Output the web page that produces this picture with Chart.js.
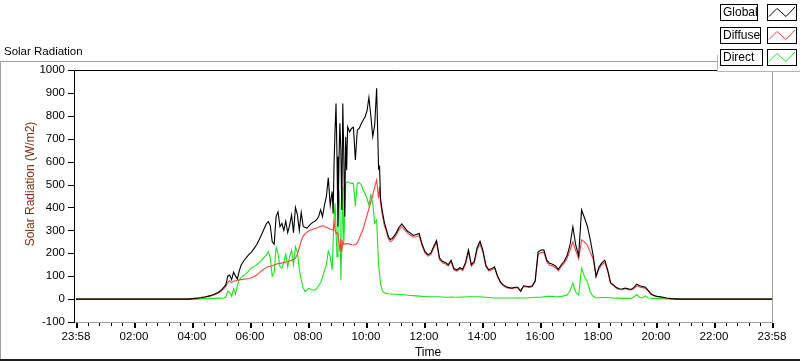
<!DOCTYPE html>
<html>
<head>
<meta charset="utf-8">
<title>Solar Radiation</title>
<script src="https://cdn.jsdelivr.net/npm/chart.js@4.4.1/dist/chart.umd.min.js"></script>
<style>
  html, body { margin: 0; padding: 0; background: #fff; }
  #wrap { width: 800px; height: 361px; }
</style>
</head>
<body>
<div id="wrap"><canvas id="solarChart" width="800" height="361"></canvas></div>
<script>
// sample times (first 23:58 is the start of the day window)
const times = [
  "23:58", "03:00", "03:52",
  "04:00", "04:04", "04:08", "04:12", "04:16", "04:20", "04:24", "04:28", "04:32", "04:36",
  "04:40", "04:44", "04:48", "04:52", "04:56", "05:00", "05:04", "05:08", "05:12", "05:16",
  "05:20", "05:24", "05:28", "05:32", "05:36", "05:40", "05:44", "05:48", "05:52", "05:56",
  "06:00", "06:04", "06:08", "06:12", "06:16", "06:20", "06:24", "06:28", "06:32", "06:36",
  "06:40", "06:44", "06:48", "06:52", "06:56", "07:00", "07:04", "07:08", "07:12", "07:16",
  "07:20", "07:24", "07:28", "07:32", "07:36", "07:40", "07:44", "07:48", "07:52", "07:56",
  "08:00", "08:04", "08:08", "08:12", "08:16", "08:20", "08:24", "08:28", "08:32", "08:36",
  "08:40", "08:44", "08:48", "08:50", "08:52", "08:54", "08:56", "08:58", "09:00", "09:02",
  "09:04", "09:06", "09:08", "09:10", "09:12", "09:14", "09:16", "09:18", "09:20", "09:24",
  "09:28", "09:32", "09:36", "09:40", "09:44", "09:48", "09:52", "09:56", "10:00", "10:04",
  "10:08", "10:12", "10:16", "10:20", "10:24", "10:26", "10:28", "10:32", "10:36", "10:40",
  "10:44", "10:48", "10:52", "10:56", "11:00", "11:06", "11:12", "11:18", "11:24", "11:30",
  "11:36", "11:42", "11:48", "11:54", "12:00", "12:06", "12:12", "12:18", "12:24", "12:30",
  "12:36", "12:42", "12:48", "12:54", "13:00", "13:06", "13:12", "13:18", "13:24", "13:30",
  "13:36", "13:42", "13:48", "13:54", "14:00", "14:06", "14:12", "14:18", "14:24", "14:30",
  "14:36", "14:42", "14:48", "14:54", "15:00", "15:06", "15:12", "15:18", "15:24", "15:30",
  "15:36", "15:42", "15:48", "15:54", "16:00", "16:06", "16:12", "16:18", "16:24", "16:30",
  "16:36", "16:42", "16:48", "16:54", "17:00", "17:06", "17:12", "17:18", "17:24", "17:30",
  "17:36", "17:42", "17:48", "17:54", "18:00", "18:06", "18:12", "18:18", "18:24", "18:30",
  "18:36", "18:42", "18:48", "18:54", "19:00", "19:06", "19:12", "19:18", "19:24", "19:30",
  "19:36", "19:42", "19:48", "19:54", "20:00", "20:10", "20:20", "20:30", "20:45", "23:58"
];

const globalRad = [
  0, 0, 0,
  2, 3, 4, 5, 6, 8, 9, 11, 13, 15,
  18, 21, 25, 29, 35, 42, 52, 62, 100, 105,
  85, 118, 100, 88, 125, 150, 163, 175, 185, 195,
  203, 214, 226, 238, 255, 272, 292, 310, 330, 338,
  320, 250, 240, 360, 381, 316, 330, 300, 340, 290,
  323, 367, 290, 400, 370, 300, 378, 318, 312, 310,
  320, 328, 335, 340, 347, 360, 390, 360, 410, 447,
  530, 410, 470, 374, 600, 738, 854, 621, 316, 600,
  767, 650, 389, 854, 636, 360, 709, 563, 752, 730,
  745, 750, 607, 738, 745, 765, 781, 795, 820, 880,
  800, 710, 760, 920, 570, 578, 440, 380, 335, 305,
  275, 260, 264, 275, 287, 312, 328, 312, 296, 288,
  278, 282, 286, 240, 208, 194, 200, 230, 256, 180,
  165, 160, 150, 170, 133, 127, 137, 130, 160, 215,
  150, 165, 225, 252, 212, 148, 128, 133, 141, 102,
  75, 62, 54, 50, 48, 52, 52, 35, 58, 56,
  54, 58, 80, 205, 214, 215, 170, 156, 152, 145,
  130, 150, 165, 190, 235, 316, 235, 190, 389, 355,
  318, 260, 190, 100, 140, 158, 170, 128, 72, 62,
  50, 45, 44, 48, 45, 42, 50, 65, 58, 55,
  52, 38, 22, 16, 12, 9, 5, 2, 0, 0
];

const diffuseRad = [
  0, 0, 0,
  2, 3, 4, 5, 6, 8, 9, 10, 12, 14,
  16, 19, 22, 26, 31, 38, 46, 55, 74, 80,
  72, 78, 80, 82, 84, 85, 86, 88, 89, 90,
  92, 96, 100, 105, 112, 120, 127, 133, 138, 141,
  143, 146, 149, 152, 155, 156, 158, 160, 162, 163,
  166, 170, 172, 180, 195, 225, 255, 275, 285, 292,
  298, 302, 305, 308, 310, 314, 318, 320, 318, 312,
  310, 305, 303, 300, 338, 300, 287, 290, 280, 250,
  207, 260, 207, 250, 240, 240, 243, 240, 243, 240,
  237, 236, 238, 245, 265, 285, 305, 335, 365, 395,
  425, 455, 490, 520, 440, 490, 420, 365, 320, 298,
  264, 250, 255, 266, 278, 302, 316, 302, 288, 280,
  270, 273, 277, 233, 201, 188, 194, 222, 246, 173,
  159, 154, 145, 163, 128, 122, 131, 125, 153, 205,
  144, 158, 215, 241, 204, 142, 123, 128, 135, 98,
  72, 59, 51, 47, 46, 49, 49, 33, 55, 53,
  51, 55, 76, 195, 203, 205, 162, 148, 145, 137,
  124, 142, 157, 178, 212, 250, 212, 175, 258, 250,
  235, 205, 175, 96, 132, 150, 160, 122, 69, 59,
  47, 42, 41, 45, 42, 40, 45, 58, 53, 50,
  47, 35, 20, 15, 11, 8, 4, 2, 0, 0
];

const directRad = [
  0, 0, 0,
  0, 0, 0, 0, 1, 2, 2, 3, 3, 3,
  3, 3, 3, 4, 4, 4, 5, 8, 35, 28,
  12, 45, 22, 60, 85, 95, 102, 108, 115, 125,
  134, 140, 145, 150, 158, 166, 175, 184, 193, 207,
  180, 100, 115, 225, 200, 141, 135, 160, 195, 140,
  185, 214, 150, 229, 205, 130, 85, 50, 33, 40,
  47, 42, 40, 40, 45, 60, 70, 95, 125, 150,
  210, 185, 127, 243, 360, 418, 300, 185, 316, 476,
  400, 83, 250, 490, 243, 360, 505, 510, 512, 508,
  505, 505, 405, 505, 508, 500, 476, 460, 440, 410,
  455, 418, 331, 345, 150, 110, 70, 35, 28, 25,
  23, 22, 22, 21, 21, 20, 20, 19, 17, 16,
  15, 14, 13, 12, 11, 10, 10, 10, 10, 10,
  9, 8, 8, 9, 8, 8, 9, 9, 9, 10,
  10, 10, 10, 10, 9, 8, 7, 6, 5, 5,
  5, 5, 5, 5, 5, 5, 6, 5, 5, 5,
  6, 7, 8, 8, 8, 10, 12, 12, 12, 10,
  10, 12, 14, 18, 35, 69, 30, 18, 134, 98,
  76, 30, 12, 6, 6, 7, 7, 7, 6, 5,
  4, 4, 3, 3, 3, 3, 8, 20, 8, 5,
  14, 5, 4, 3, 3, 2, 1, 0, 0, 0
];

const yTicks = [-100, 0, 100, 200, 300, 400, 500, 600, 700, 800, 900, 1000];
const xTickLabels = ["23:58", "02:00", "04:00", "06:00", "08:00", "10:00", "12:00",
                     "14:00", "16:00", "18:00", "20:00", "22:00", "23:58"];
const seriesNames = ["Global", "Diffuse", "Direct"];
const seriesColors = ["#000000", "#ff4040", "#19e619"];

// minutes since the 23:58 start of the window
function toMinutes(s, i) {
  const [h, m] = s.split(":").map(Number);
  let v = h * 60 + m + 2;
  if (i === 0 && v >= 1440) v -= 1440;
  return v;
}
const xs = times.map(toMinutes);
const pts = arr => arr.map((v, i) => ({ x: xs[i], y: v }));

const FONT = "'Liberation Sans', Arial, sans-serif";

const framePlugin = {
  id: "labviewFrame",
  beforeDraw(chart) {
    const ctx = chart.ctx;
    ctx.save();
    ctx.fillStyle = "#fff";
    ctx.fillRect(0, 0, chart.width, chart.height);
    // outer panel frame
    ctx.strokeStyle = "#a0a0a0";
    ctx.lineWidth = 1;
    ctx.beginPath();
    ctx.moveTo(0.5, chart.height);
    ctx.lineTo(0.5, 61.5);
    ctx.lineTo(717, 61.5);
    ctx.stroke();
    ctx.fillStyle = "#1e1e1e";
    ctx.fillRect(0, chart.height - 2, chart.width, 2);
    ctx.restore();
  },
  beforeDatasetsDraw(chart) {
    const { ctx, chartArea: a } = chart;
    const xScale = chart.scales.x, yScale = chart.scales.y;
    ctx.save();
    ctx.lineWidth = 1;
    // plot frame
    ctx.strokeStyle = "#a0a0a0";
    ctx.beginPath();
    ctx.moveTo(74, a.bottom + 0.5);
    ctx.lineTo(a.right + 0.5, a.bottom + 0.5);
    ctx.lineTo(a.right + 0.5, a.top);
    ctx.stroke();
    ctx.strokeStyle = "#000";
    ctx.beginPath();
    ctx.moveTo(74.5, a.bottom + 1);
    ctx.lineTo(74.5, a.top + 0.5);
    ctx.lineTo(717, a.top + 0.5);
    ctx.stroke();
    // y tick marks
    yTicks.forEach(v => {
      const y = Math.round(yScale.getPixelForValue(v)) + 0.5;
      ctx.beginPath();
      ctx.moveTo(68, y);
      ctx.lineTo(74, y);
      ctx.stroke();
    });
    // x tick marks, major every 2 h, minor every 24 min
    ctx.fillStyle = "#000";
    for (let t = 0; t <= 1440; t += 24) {
      const x = Math.round(xScale.getPixelForValue(t));
      if (t % 120 === 0) ctx.fillRect(x, a.bottom + 1, 2, 5);
      else ctx.fillRect(x, a.bottom + 1, 1, 3);
    }
    ctx.restore();
  },
  afterDraw(chart) {
    const ctx = chart.ctx;
    ctx.save();
    ctx.fillStyle = "#000";
    ctx.font = "11.5px " + FONT;
    ctx.textAlign = "left";
    ctx.textBaseline = "alphabetic";
    ctx.fillText("Solar Radiation", 4, 55);

    // axis titles
    ctx.font = "12px " + FONT;
    ctx.textAlign = "center";
    ctx.textBaseline = "middle";
    ctx.fillText("Time", 428, 353);
    ctx.save();
    ctx.translate(31, 184);
    ctx.rotate(-Math.PI / 2);
    ctx.fillStyle = "#7a2e14";
    ctx.fillText("Solar Radiation (W/m2)", 0, 0);
    ctx.restore();

    // legend panel
    ctx.fillStyle = "#fff";
    ctx.fillRect(717, 0, 83, 71);
    ctx.strokeStyle = "#b4b4b4";
    ctx.lineWidth = 1;
    ctx.beginPath();
    ctx.moveTo(717.5, 55);
    ctx.lineTo(717.5, 71.5);
    ctx.lineTo(800, 71.5);
    ctx.stroke();
    const boxW = [37, 40, 42];
    seriesNames.forEach((name, i) => {
      const top = 4.5 + Math.round(i * 22.5);
      ctx.strokeStyle = "#000";
      ctx.strokeRect(720.5, top, boxW[i], 16);
      ctx.strokeRect(767.5, top, 29, 16);
      ctx.fillStyle = "#000";
      ctx.font = "12px " + FONT;
      ctx.textAlign = "left";
      ctx.textBaseline = "middle";
      ctx.fillText(name, 723, top + 8.5);
      ctx.strokeStyle = seriesColors[i];
      ctx.beginPath();
      ctx.moveTo(769, top + 12);
      ctx.lineTo(777, top + 4);
      ctx.lineTo(786, top + 12);
      ctx.lineTo(795, top + 2.5);
      ctx.stroke();
    });
    ctx.restore();
  }
};

new Chart(document.getElementById("solarChart").getContext("2d"), {
  type: "line",
  data: {
    datasets: [
      { label: seriesNames[0], data: pts(globalRad), borderColor: seriesColors[0] },
      { label: seriesNames[1], data: pts(diffuseRad), borderColor: seriesColors[1] },
      { label: seriesNames[2], data: pts(directRad), borderColor: seriesColors[2] }
    ]
  },
  options: {
    responsive: false,
    animation: false,
    devicePixelRatio: 1,
    layout: { padding: { left: 0, top: 70, right: 28, bottom: 0 } },
    elements: {
      line: { borderWidth: 1.1, tension: 0, fill: false },
      point: { radius: 0 }
    },
    plugins: {
      legend: { display: false },
      tooltip: { enabled: false },
      title: { display: false }
    },
    scales: {
      x: {
        type: "linear",
        min: 0,
        max: 1440,
        afterFit: s => { s.height = 39; },
        afterBuildTicks: s => { s.ticks = xTickLabels.map((_, i) => ({ value: i * 120 })); },
        grid: { display: false, drawTicks: false },
        border: { display: false },
        ticks: {
          autoSkip: false,
          maxRotation: 0,
          padding: 8,
          color: "#000",
          font: { family: FONT, size: 11.5 },
          callback: (v, i) => xTickLabels[i]
        }
      },
      y: {
        min: -100,
        max: 1000,
        afterFit: s => { s.width = 76; },
        afterBuildTicks: s => { s.ticks = yTicks.map(v => ({ value: v })); },
        grid: { display: false, drawTicks: false },
        border: { display: false },
        ticks: {
          padding: 11,
          color: "#000",
          font: { family: FONT, size: 11.5 },
          callback: v => String(v)
        }
      }
    }
  },
  plugins: [framePlugin]
});
</script>
</body>
</html>
